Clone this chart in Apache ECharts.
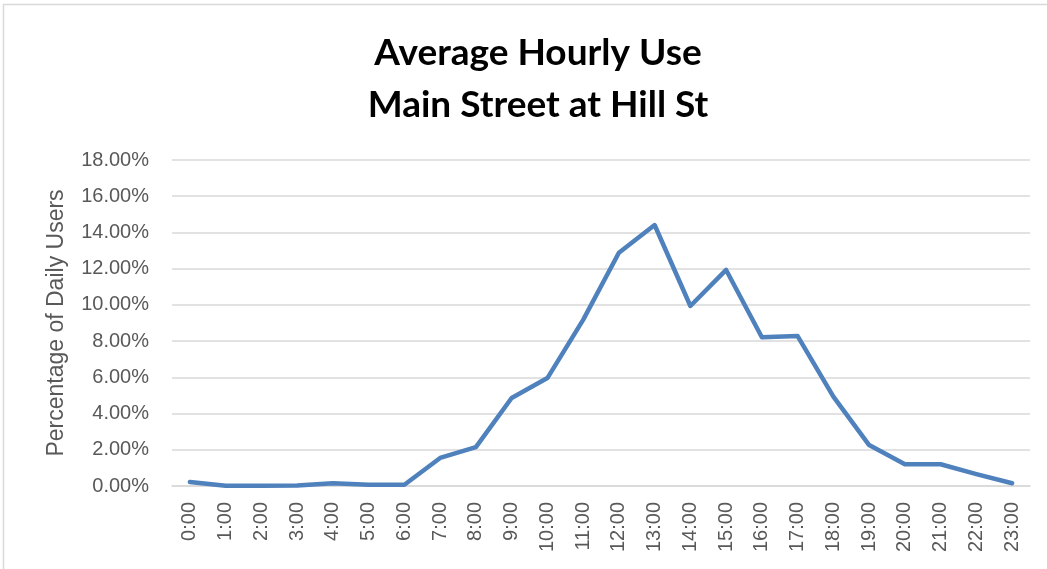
<!DOCTYPE html>
<html>
<head>
<meta charset="utf-8">
<script src="https://cdn.jsdelivr.net/npm/echarts@6/dist/echarts.min.js"></script>
<style>
  html, body { margin: 0; padding: 0; background: #fff; }
  #chart { width: 1047px; height: 569px; }
</style>
</head>
<body>
<div id="chart"></div>
<script>
// hours of day
var hours = ['0:00', '1:00', '2:00', '3:00', '4:00', '5:00', '6:00', '7:00', '8:00', '9:00', '10:00', '11:00',
  '12:00', '13:00', '14:00', '15:00', '16:00', '17:00', '18:00', '19:00', '20:00', '21:00', '22:00', '23:00'];
// share of daily users, in percent
var share = [0.22, 0.02, 0.02, 0.03, 0.15, 0.07, 0.07, 1.55, 2.15, 4.86, 5.96, 9.17,
  12.88, 14.41, 9.94, 11.93, 8.21, 8.28, 4.93, 2.26, 1.2, 1.2, 0.66, 0.15];
var yMax = 18, yStep = 2;

var chart = echarts.init(document.getElementById('chart'));
var option = {
  backgroundColor: '#fff',
  animation: false,
  graphic: [{
    type: 'rect',
    shape: { x: 3.5, y: 4.5, width: 1060, height: 580 },
    style: { fill: 'none', stroke: '#d9d9d9', lineWidth: 1.5 }
  }],
  title: {
    text: 'Average Hourly Use\nMain Street at Hill St',
    left: 533,
    top: 22,
    textAlign: 'center',
    textStyle: {
      fontFamily: 'Lato',
      fontWeight: 'bold',
      fontSize: 37,
      lineHeight: 52,
      color: '#000'
    }
  },
  grid: {
    left: 172,
    right: 17,
    top: 160,
    bottom: 83,
    containLabel: false
  },
  xAxis: {
    type: 'category',
    data: hours,
    boundaryGap: true,
    axisLine: { lineStyle: { color: '#d9d9d9', width: 1.5 } },
    axisTick: { show: false },
    axisLabel: {
      rotate: 90,
      margin: 16,
      interval: 0,
      color: '#595959',
      fontFamily: 'Liberation Sans',
      fontSize: 20
    }
  },
  yAxis: {
    type: 'value',
    min: 0,
    max: yMax,
    interval: yStep,
    name: 'Percentage of Daily Users',
    nameLocation: 'middle',
    nameGap: 104,
    nameTextStyle: {
      color: '#595959',
      fontFamily: 'Liberation Sans',
      fontSize: 23
    },
    axisLine: { show: false },
    axisTick: { show: false },
    axisLabel: {
      margin: 23,
      color: '#595959',
      fontFamily: 'Liberation Sans',
      fontSize: 20,
      formatter: function (v) { return v.toFixed(2) + '%'; }
    },
    splitLine: { lineStyle: { color: '#d9d9d9', width: 1.5 } }
  },
  series: [{
    type: 'line',
    data: share,
    symbol: 'none',
    lineStyle: { color: '#4f81bd', width: 4.5, cap: 'round', join: 'round' }
  }]
};
chart.setOption(option);
</script>
</body>
</html>
